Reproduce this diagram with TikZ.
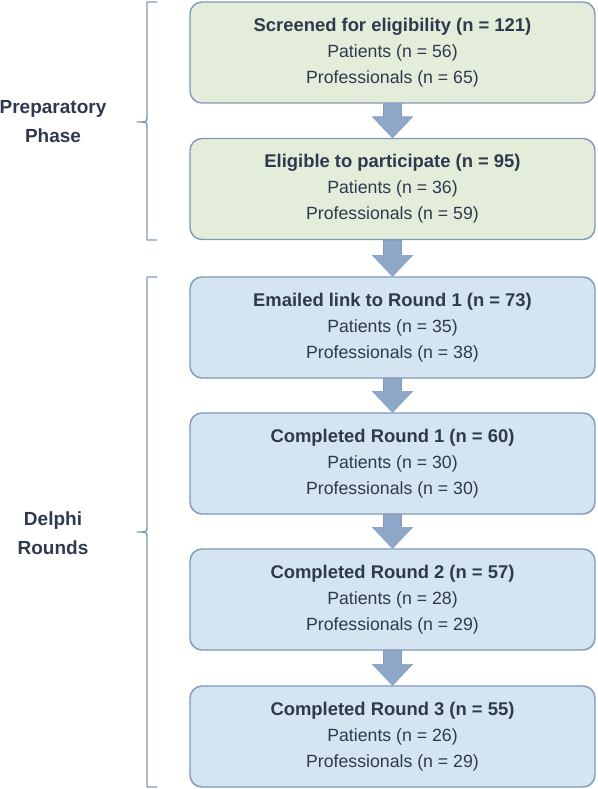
\documentclass[tikz,border=0pt]{standalone}
\usepackage{fontspec}
\setmainfont{Liberation Sans}
\usetikzlibrary{calc}
\definecolor{txt}{RGB}{47,57,78}
\definecolor{edge}{RGB}{128,152,186}
\definecolor{greenfill}{RGB}{228,237,218}
\definecolor{bluefill}{RGB}{213,228,241}
\definecolor{arrowfill}{RGB}{143,168,201}
\tikzset{
  box/.style={draw=edge, line width=1.4pt, rounded corners=12pt, minimum width=405pt,
    minimum height=101pt, align=center, text=txt, inner sep=0pt,
    font=\fontsize{17.7}{26}\selectfont},
  gbox/.style={box, fill=greenfill},
  bbox/.style={box, fill=bluefill},
  bigarrow/.style={fill=arrowfill, draw=edge, line width=0.6pt},
  brace/.style={draw=edge, line width=1.4pt, line join=round},
  phase/.style={align=center, text=txt, font=\bfseries\fontsize{19}{29}\selectfont}
}
\newcommand{\ttl}[1]{{\bfseries\fontsize{18.4}{26}\selectfont #1}}
\begin{document}
\begin{tikzpicture}[x=1pt,y=-1pt]
\useasboundingbox (0,0) rectangle (597,789);
\node[gbox] (b1) at (392.5,52.5) {\ttl{Screened for eligibility (n = 121)}\\Patients (n = 56)\\Professionals (n = 65)};
\node[gbox] (b2) at (392.5,189) {\ttl{Eligible to participate (n = 95)}\\Patients (n = 36)\\Professionals (n = 59)};
\node[bbox] (b3) at (392.5,327.5) {\ttl{Emailed link to Round 1 (n = 73)}\\Patients (n = 35)\\Professionals (n = 38)};
\node[bbox] (b4) at (392.5,463.5) {\ttl{Completed Round 1 (n = 60)}\\Patients (n = 30)\\Professionals (n = 30)};
\node[bbox] (b5) at (392.5,599.5) {\ttl{Completed Round 2 (n = 57)}\\Patients (n = 28)\\Professionals (n = 29)};
\node[bbox] (b6) at (392.5,736.5) {\ttl{Completed Round 3 (n = 55)}\\Patients (n = 26)\\Professionals (n = 29)};
\foreach \a/\b in {b1/b2,b2/b3,b3/b4,b4/b5,b5/b6}{
  \draw[bigarrow] ($(\a.south)+(-9,0)$) -- ($(\a.south)+(9,0)$) -- ($(\b.north)+(9,-21)$)
    -- ($(\b.north)+(20,-21)$) -- (\b.north) -- ($(\b.north)+(-20,-21)$)
    -- ($(\b.north)+(-9,-21)$) -- cycle;
}
\draw[brace] (157,2) -- (147,2) -- (147,117) .. controls (147,122) .. (137,122)
  .. controls (147,122) .. (147,127) -- (147,240) -- (157,240);
\draw[brace] (157,277) -- (147,277) -- (147,527) .. controls (147,532) .. (137,532)
  .. controls (147,532) .. (147,537) -- (147,787) -- (157,787);
\node[phase] (p1) at (53,122) {Preparatory\\Phase};
\node[phase] (p2) at (53,533) {Delphi\\Rounds};
\end{tikzpicture}
\end{document}
